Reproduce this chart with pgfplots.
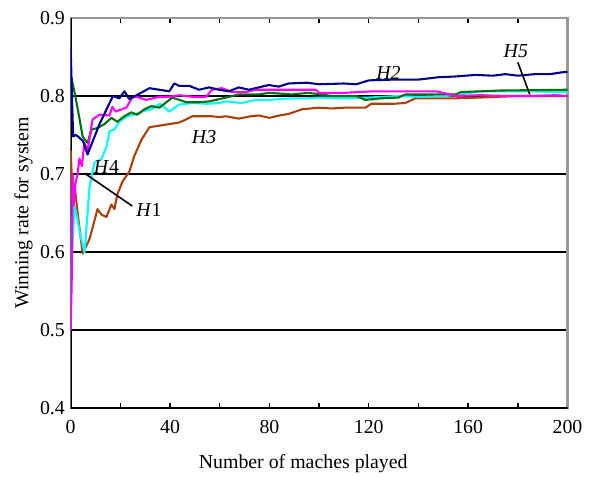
\documentclass[border=0pt]{standalone}
\usepackage{fontspec}
\setmainfont{Liberation Serif}
\usepackage{pgfplots}
\pgfplotsset{compat=1.18}
\definecolor{cnavy}{RGB}{0,0,140}
\definecolor{cmag}{RGB}{255,0,255}
\definecolor{ccyan}{RGB}{0,255,255}
\definecolor{cgreen}{RGB}{0,110,20}
\definecolor{cbrown}{RGB}{170,65,10}
\begin{document}
\rmfamily\fontsize{20}{23}\selectfont
\begin{tikzpicture}[font=\rmfamily\fontsize{20}{23}\selectfont]
\begin{axis}[
  scale only axis, width=499bp, height=392bp,
  xmin=0, xmax=200, ymin=0.4, ymax=0.9,
  xtick={0,20,...,200}, xticklabels={0,,40,,80,,120,,160,,200},
  ytick={0.4,0.5,...,0.9},
  yticklabel style={/pgf/number format/fixed, /pgf/number format/fixed zerofill, /pgf/number format/precision=1, /pgf/number format/assume math mode=true, xshift=1pt},
  /pgf/number format/assume math mode=true,
  tick align=inside, major tick length=5pt,
  tick style={black, line width=1.4pt},
  ytick style={draw=none},
  ymajorgrids, grid style={black, line width=2.2pt},
  axis line style={gray!80, line width=2.2pt},
  xlabel={Number of maches played},
  ylabel={Winning rate for system},
  xlabel style={yshift=-8pt, xshift=-16pt},
  ylabel style={yshift=-6pt},
  xticklabel style={yshift=-5pt},
  tick label style={font=\rmfamily\fontsize{20}{23}\selectfont},
  label style={font=\rmfamily\fontsize{20}{23}\selectfont},
  every axis plot/.append style={line width=2.1pt, line join=round},
  clip=true,
]
\draw[black, line width=2.6pt] (axis cs:0,0.9) -- (axis cs:0,0.4) -- (axis cs:200,0.4);
% brown
\addplot[cbrown] coordinates {
(0,0.73)(0.4,0.70)(0.8,0.646)(1.6,0.685)(2.8,0.65)(4.8,0.598)(7.6,0.617)(10.8,0.655)(12.4,0.648)(14.4,0.645)(16.4,0.661)(17.6,0.655)(18.8,0.674)(20.8,0.69)(23.6,0.703)(25.6,0.723)(28.5,0.744)(31.7,0.76)(35.7,0.762)(39.7,0.764)(43.7,0.766)(46.5,0.77)(48.9,0.774)(52.9,0.774)(56.9,0.774)(59.7,0.773)(62.5,0.774)(67.7,0.771)(72.5,0.774)(75.7,0.775)(80,0.772)(84,0.775)(87.7,0.777)(93.2,0.783)(99.8,0.785)(105,0.784)(110,0.785)(118.6,0.785)(121,0.79)(130,0.790)(134.7,0.791)(138.7,0.797)(150,0.797)(155,0.797)(165,0.798)(180,0.80)(200,0.80)};
% cyan
\addplot[ccyan] coordinates {
(0,0.536)(0.6,0.60)(1.5,0.66)(2.5,0.645)(4,0.62)(5.6,0.60)(7.6,0.684)(9.6,0.715)(12.4,0.719)(14.4,0.735)(15,0.744)(15.6,0.755)(17.6,0.757)(19.6,0.767)(22.8,0.774)(25.6,0.776)(28.5,0.78)(32.5,0.783)(36,0.79)(39.7,0.78)(43.7,0.789)(48.9,0.791)(55,0.790)(59.7,0.791)(62.5,0.793)(69,0.791)(74.5,0.795)(79.7,0.795)(89,0.797)(95.6,0.797)(100,0.798)(110,0.797)(120,0.798)(132,0.800)(140,0.799)(150,0.80)(155,0.801)(165,0.806)(175,0.806)(185,0.806)(195,0.805)(200,0.805)};
% green
\addplot[cgreen] coordinates {
(0,0.827)(1.6,0.804)(3.6,0.77)(4.8,0.748)(6.8,0.74)(8.4,0.757)(10.8,0.759)(13.6,0.764)(16.4,0.772)(18.8,0.767)(21.6,0.774)(24.4,0.779)(26.8,0.776)(29.7,0.783)(32.5,0.787)(35.7,0.785)(40.9,0.798)(46.5,0.792)(51.7,0.792)(55.7,0.793)(62.5,0.798)(67.7,0.802)(75.7,0.802)(79.8,0.804)(89,0.802)(95.8,0.804)(105,0.80)(115,0.80)(118.6,0.795)(125,0.797)(131.9,0.798)(134.7,0.802)(145,0.802)(155,0.802)(157,0.805)(173,0.807)(200,0.808)};
% magenta
\addplot[cmag] coordinates {
(0,0.50)(0.4,0.56)(0.8,0.70)(1.2,0.66)(2,0.69)(2.8,0.70)(3.5,0.72)(4.5,0.71)(5.5,0.74)(6.8,0.73)(8.8,0.77)(11.6,0.776)(15.6,0.775)(16.8,0.786)(18,0.78)(22.4,0.785)(24.8,0.798)(26.5,0.799)(30.4,0.795)(35.7,0.799)(39.7,0.799)(43.7,0.801)(48.9,0.799)(54.5,0.799)(56.9,0.808)(60.9,0.81)(64.9,0.805)(70.5,0.805)(74.5,0.808)(80,0.808)(88,0.808)(98.6,0.808)(100,0.804)(110,0.804)(122,0.806)(130,0.806)(140,0.806)(147,0.806)(150,0.804)(155,0.80)(165,0.801)(175,0.80)(185,0.80)(195,0.801)(200,0.80)};
% navy
\addplot[cnavy] coordinates {
(0,0.863)(0.5,0.80)(1,0.748)(2,0.75)(3,0.748)(5,0.742)(6.8,0.725)(8,0.735)(11.6,0.764)(14,0.78)(17,0.80)(19.6,0.797)(21.6,0.806)(23.6,0.796)(27.7,0.803)(31.7,0.81)(35.7,0.808)(39.7,0.806)(41.7,0.816)(43.7,0.813)(47.7,0.813)(51.7,0.808)(55.7,0.811)(59.7,0.808)(63.7,0.806)(67.7,0.811)(71.7,0.808)(75.7,0.811)(79.7,0.814)(83.7,0.812)(87.7,0.816)(95,0.817)(100,0.815)(110,0.816)(115,0.815)(120,0.82)(130,0.821)(140,0.821)(148,0.824)(155,0.825)(163,0.827)(170,0.826)(175,0.828)(180,0.826)(187,0.828)(193,0.828)(197,0.830)(200,0.831)};
% annotations
\draw[black, line width=1.6pt] (axis cs:5.6,0.701) -- (axis cs:24.8,0.659);
\draw[black, line width=1.6pt] (axis cs:180,0.843) -- (axis cs:184.8,0.802);
\node at (axis cs:14.4,0.709) {\textit{H}4};
\node at (axis cs:31.5,0.654) {\textit{H}1};
\node at (axis cs:127.9,0.830) {\textit{H2}};
\node at (axis cs:53.7,0.748) {\textit{H3}};
\node at (axis cs:179.2,0.857) {\textit{H5}};
\end{axis}
\path[use as bounding box] ([shift={(-71bp,-64bp)}]current axis.south west) rectangle ++(589bp,474bp);
\end{tikzpicture}
\end{document}
